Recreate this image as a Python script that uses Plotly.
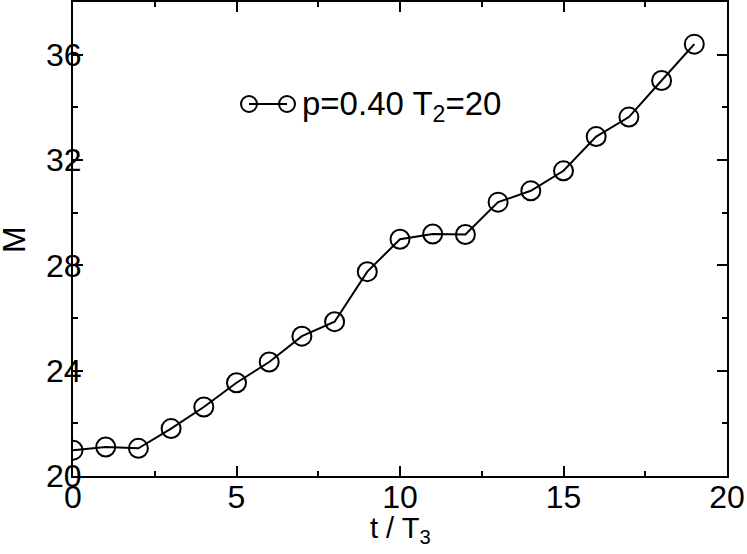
import plotly.graph_objects as go

t_vals = list(range(20))
m_vals = [20.98, 21.10, 21.05, 21.80, 22.62, 23.54, 24.33, 25.31, 25.86, 27.76,
          28.99, 29.19, 29.17, 30.40, 30.83, 31.59, 32.89, 33.63, 35.02, 36.40]
series_name = "p=0.40 T<sub>2</sub>=20"
x_title = "t / T<sub>3</sub>"
y_title = "M"
x_ticks = [0, 5, 10, 15, 20]
y_ticks = [20, 24, 28, 32, 36]

FONT = "Liberation Sans, Arial, Helvetica, sans-serif"

# plot area in pixels
L, R, T, B = 73, 727, 2, 476
W, H = 747, 554

fig = go.Figure()
fig.add_trace(go.Scatter(
    x=t_vals, y=m_vals, mode="lines+markers",
    line=dict(color="black", width=2),
    marker=dict(symbol="circle-open", size=19, color="black", line=dict(width=2)),
    showlegend=False, name=series_name,
))

axis_common = dict(
    showgrid=False, zeroline=False, showline=True, linecolor="black", linewidth=2,
    mirror="ticks", ticks="inside", ticklen=10, tickwidth=1.5, tickcolor="black",
    tickfont=dict(family=FONT, size=32, color="black"),
    automargin=False, ticklabeloverflow="allow",
)

fig.update_layout(
    width=W, height=H,
    margin=dict(l=L, r=W - R, t=T, b=H - B, autoexpand=False),
    paper_bgcolor="white", plot_bgcolor="white",
    font=dict(family=FONT, color="black"),
    xaxis=dict(range=[0, 20], tickvals=x_ticks, ticktext=[str(v) for v in x_ticks],
               minor=dict(ticks="inside", ticklen=5, dtick=2.5, tickcolor="black", tickwidth=1.5),
               ticklabelstandoff=-8,
               **axis_common),
    yaxis=dict(range=[20, 38], tickvals=y_ticks, ticktext=[str(v) for v in y_ticks],
               minor=dict(ticks="inside", ticklen=5, dtick=2, tickcolor="black", tickwidth=1.5),
               ticklabelstandoff=-17,
               **axis_common),
)

def px_x(p):
    return (p - L) / (R - L)

def px_y(p):
    return (B - p) / (B - T)

# axis titles
fig.add_annotation(xref="paper", yref="paper", x=px_x(400), y=px_y(530),
                   xanchor="center", yanchor="middle", showarrow=False,
                   text=x_title, font=dict(family=FONT, size=29, color="black"))
fig.add_annotation(xref="paper", yref="paper", x=px_x(14), y=px_y(240),
                   xanchor="center", yanchor="middle", showarrow=False, textangle=-90,
                   text=y_title, font=dict(family=FONT, size=32, color="black"))

# legend drawn as decoration (paper coordinates)
lx1, lx2, ly, r = 249, 287, 104, 8
fig.add_shape(type="line", xref="paper", yref="paper",
              x0=px_x(lx1), x1=px_x(lx2), y0=px_y(ly), y1=px_y(ly),
              line=dict(color="black", width=2))
for cx in (lx1, lx2):
    fig.add_shape(type="circle", xref="paper", yref="paper",
                  x0=px_x(cx - r), x1=px_x(cx + r), y0=px_y(ly + r), y1=px_y(ly - r),
                  line=dict(color="black", width=2), fillcolor="rgba(0,0,0,0)")
fig.add_annotation(xref="paper", yref="paper", x=px_x(300), y=px_y(ly + 2),
                   xanchor="left", yanchor="middle", showarrow=False,
                   text=series_name, font=dict(family=FONT, size=33, color="black"))

fig.write_html("out.html", config={"displayModeBar": False},
               post_script="document.body.style.margin='0';")
